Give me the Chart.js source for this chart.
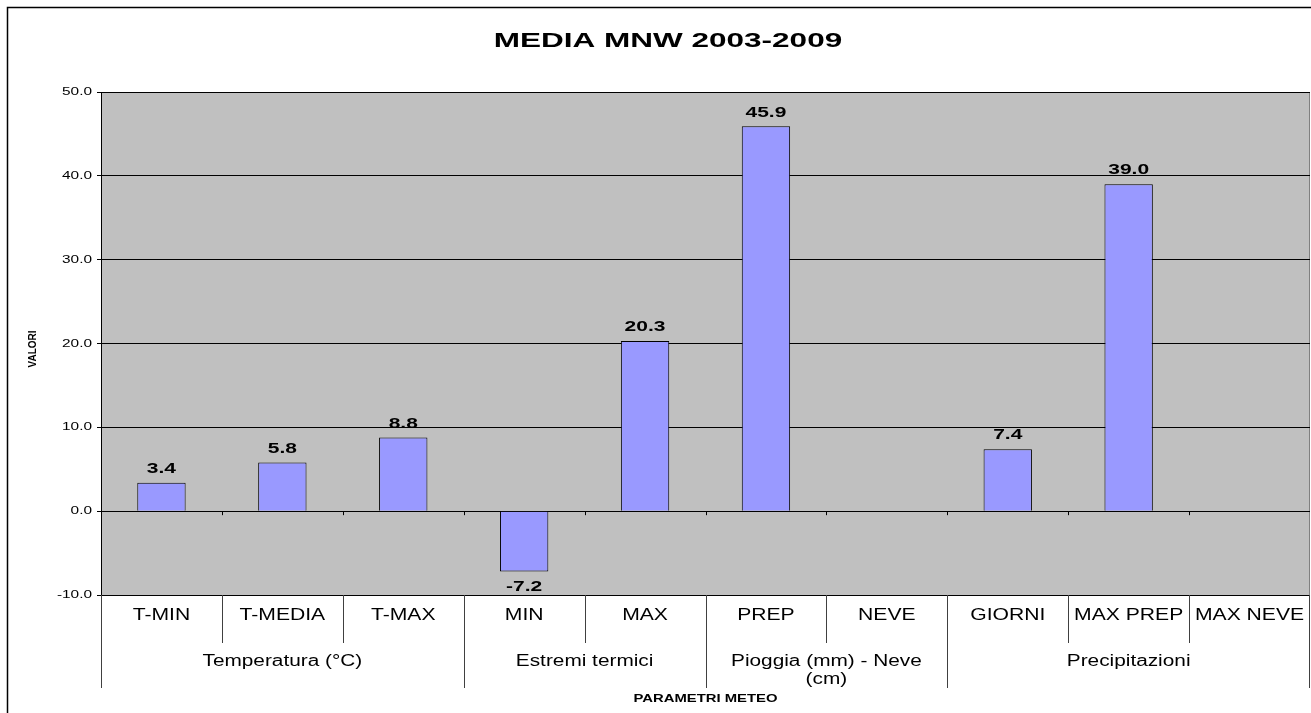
<!DOCTYPE html>
<html>
<head>
<meta charset="utf-8">
<title>MEDIA MNW 2003-2009</title>
<script src="https://cdn.jsdelivr.net/npm/chart.js@4/dist/chart.umd.min.js"></script>
<style>
  html, body { margin: 0; padding: 0; background: #fff; }
  canvas { display: block; }
</style>
</head>
<body>
<canvas id="chart" width="1311" height="713"></canvas>
<script>
// dati
const categories = ['T-MIN', 'T-MEDIA', 'T-MAX', 'MIN', 'MAX', 'PREP', 'NEVE', 'GIORNI', 'MAX PREP', 'MAX NEVE'];
const values = [3.4, 5.8, 8.8, -7.2, 20.3, 45.9, null, 7.4, 39.0, null];
const groupLabels = [['Temperatura (°C)'], ['Estremi termici'], ['Pioggia (mm) - Neve', '(cm)'], ['Precipitazioni']];
const groupSizes = [3, 2, 2, 3];
const yTicks = [-10, 0, 10, 20, 30, 40, 50];

const FONT = '"Liberation Sans", Arial, sans-serif';

function drawText(ctx, text, x, y, font, sx, align) {
    ctx.save();
    ctx.font = font;
    ctx.fillStyle = '#000';
    ctx.textBaseline = 'middle';
    ctx.textAlign = align || 'center';
    ctx.translate(x, y);
    ctx.scale(sx, 1);
    ctx.fillText(text, 0, 0);
    ctx.restore();
}

// sfondo, bordo e area del grafico stile Excel
const backgroundPlugin = {
    id: 'excelBackground',
    beforeDraw(chart) {
        const ctx = chart.ctx;
        const a = chart.chartArea;
        ctx.save();
        ctx.fillStyle = '#fff';
        ctx.fillRect(0, 0, chart.width, chart.height);
        ctx.strokeStyle = '#000';
        ctx.lineWidth = 1.5;
        ctx.strokeRect(7.5, 7.5, chart.width + 20, chart.height + 20);
        ctx.fillStyle = '#C0C0C0';
        ctx.fillRect(a.left, a.top, a.right - a.left, a.bottom - a.top);
        ctx.strokeStyle = '#808080';
        ctx.lineWidth = 1;
        ctx.beginPath();
        ctx.moveTo(a.right - 0.5, a.top);
        ctx.lineTo(a.right - 0.5, a.bottom);
        ctx.stroke();
        ctx.restore();
    }
};

// testi, assi e etichette a due livelli
const labelsPlugin = {
    id: 'excelLabels',
    afterDraw(chart) {
        const ctx = chart.ctx;
        const a = chart.chartArea;
        const x = chart.scales.x;
        const y = chart.scales.y;
        const zeroY = y.getPixelForValue(0);
        const catW = (a.right - a.left) / categories.length;

        // titolo
        drawText(ctx, 'MEDIA MNW 2003-2009', 668, 41, 'bold 21px ' + FONT, 1.5);

        // etichette asse y
        y.ticks.forEach(t => {
            drawText(ctx, t.value.toFixed(1), 92, y.getPixelForValue(t.value), '11px ' + FONT, 1.4, 'right');
        });

        // titolo asse y ruotato
        ctx.save();
        ctx.translate(33, 349);
        ctx.rotate(-Math.PI / 2);
        drawText(ctx, 'VALORI', 0, 0, 'bold 10px ' + FONT, 1.0);
        ctx.restore();

        // tacche sull'asse dello zero
        ctx.save();
        ctx.strokeStyle = '#000';
        ctx.lineWidth = 1;
        ctx.beginPath();
        for (let i = 1; i < categories.length; i++) {
            const bx = Math.round(x.getPixelForValue(i) - catW / 2) + 0.5;
            ctx.moveTo(bx, zeroY);
            ctx.lineTo(bx, zeroY + 4);
        }
        ctx.stroke();

        // separatori delle categorie e dei gruppi
        const groupEdges = [0];
        groupSizes.forEach(n => groupEdges.push(groupEdges[groupEdges.length - 1] + n));
        ctx.strokeStyle = '#404040';
        ctx.beginPath();
        for (let i = 0; i <= categories.length; i++) {
            let bx = i === categories.length ? a.right - 0.5 : Math.round(x.getPixelForValue(i) - catW / 2) + 0.5;
            const isGroup = groupEdges.includes(i);
            ctx.moveTo(bx, a.bottom);
            ctx.lineTo(bx, isGroup ? 688 : 643);
        }
        ctx.stroke();
        ctx.restore();

        // etichette categorie
        categories.forEach((c, i) => {
            drawText(ctx, c, x.getPixelForValue(i), 616, '16px ' + FONT, 1.32);
        });

        // etichette gruppi
        groupLabels.forEach((lines, g) => {
            const x0 = x.getPixelForValue(groupEdges[g]) - catW / 2;
            const x1 = x.getPixelForValue(groupEdges[g + 1] - 1) + catW / 2;
            lines.forEach((line, k) => {
                drawText(ctx, line, (x0 + x1) / 2, 662 + k * 18, '16px ' + FONT, 1.3);
            });
        });

        // titolo asse x
        drawText(ctx, 'PARAMETRI METEO', (a.left + a.right) / 2, 699, 'bold 11px ' + FONT, 1.35);

        // valori sopra le barre
        const meta = chart.getDatasetMeta(0);
        meta.data.forEach((bar, i) => {
            const v = values[i];
            if (v === null) return;
            const ly = v >= 0 ? bar.y - 14 : bar.y + 15.5;
            drawText(ctx, v.toFixed(1), bar.x, ly, 'bold 15px ' + FONT, 1.4);
        });
    }
};

new Chart(document.getElementById('chart'), {
    type: 'bar',
    data: {
        labels: categories,
        datasets: [{
            data: values,
            backgroundColor: '#9999FF',
            borderColor: '#000',
            borderWidth: 1,
            categoryPercentage: 1.0,
            barPercentage: 0.4
        }]
    },
    options: {
        responsive: false,
        animation: false,
        layout: { padding: { top: 92, right: 1, bottom: 0, left: 0 } },
        plugins: {
            legend: { display: false },
            title: { display: false },
            tooltip: { enabled: false }
        },
        scales: {
            x: {
                ticks: { display: false },
                grid: { display: false },
                border: { display: false },
                afterFit: scale => { scale.height = 118; }
            },
            y: {
                min: yTicks[0],
                max: yTicks[yTicks.length - 1],
                ticks: { display: false, stepSize: 10 },
                grid: { color: '#000', lineWidth: 1, tickLength: 4, drawTicks: true },
                border: { display: true, color: '#000', width: 1 },
                afterFit: scale => { scale.width = 101; }
            }
        }
    },
    plugins: [backgroundPlugin, labelsPlugin]
});
</script>
</body>
</html>
